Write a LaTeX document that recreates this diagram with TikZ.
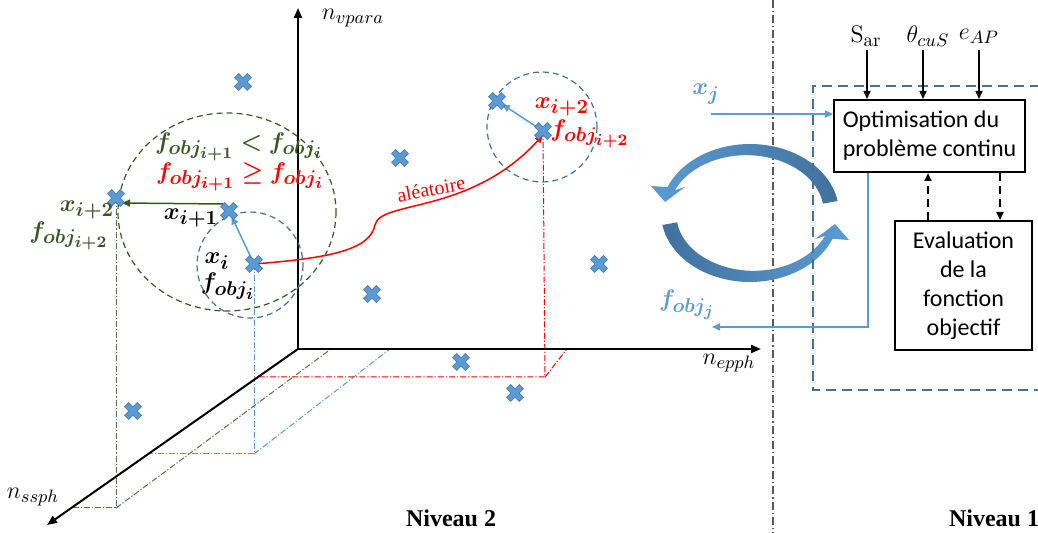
\documentclass[tikz,border=0pt]{standalone}
\usepackage{fontspec}
\usepackage{amsmath}
\usepackage{bm}
\usetikzlibrary{arrows.meta,calc}
\newfontfamily\calibrifont{Carlito}
\newfontfamily\timesfont{Liberation Serif}
\DeclareMathSizes{13}{13}{10}{8.5}
\DeclareMathSizes{12}{12}{9.5}{7.5}
\definecolor{xblue}{HTML}{5B9BD5}
\definecolor{xedge}{HTML}{41719C}
\definecolor{dgreen}{HTML}{385723}
\definecolor{sepgray}{HTML}{595959}
\tikzset{
  ax/.style={line width=1pt,-{Triangle[length=5pt,width=4pt]}},
  proj/.style={line width=0.5pt,dash pattern=on 3pt off 1pt on 0.6pt off 1pt},
  dcirc/.style={line width=0.6pt,dash pattern=on 3pt off 2pt},
  barrow/.style={line width=0.75pt,xblue,-{Triangle[length=4pt,width=3.5pt]}},
  garrow/.style={line width=0.75pt,dgreen,-{Triangle[length=4pt,width=3.5pt]}},
  rarrow/.style={line width=0.75pt,red,-{Triangle[length=4pt,width=3.5pt]}},
  karrow/.style={line width=0.75pt,black,-{Triangle[length=4pt,width=3.5pt]}},
  dasharrow/.style={line width=1pt,black,dash pattern=on 4pt off 2.5pt,-{Triangle[length=4pt,width=3.5pt]}},
  dashbox/.style={line width=0.75pt,xedge,dash pattern=on 5pt off 3pt},
  sep/.style={line width=0.6pt,sepgray,dash pattern=on 4pt off 1.5pt on 0.6pt off 1.5pt},
  box/.style={draw,line width=1pt,inner sep=0pt,font=\calibrifont\fontsize{12}{14.5}\selectfont},
  blab/.style={inner sep=0pt,font=\fontsize{13}{15}\selectfont},
  alab/.style={inner sep=0pt,font=\fontsize{12}{14}\selectfont},
  niv/.style={inner sep=0pt,font=\timesfont\bfseries\fontsize{12}{14}\selectfont},
  pics/xmark/.style={code={
    \filldraw[fill=xblue,draw=xedge,line width=0.3pt,rotate=45]
      (-3,9) -- (3,9) -- (3,3) -- (9,3) -- (9,-3) -- (3,-3) -- (3,-9) -- (-3,-9)
      -- (-3,-3) -- (-9,-3) -- (-9,3) -- (-3,3) -- cycle;}},
}
\begin{document}
\begin{tikzpicture}[x=0.5pt,y=-0.5pt]
\useasboundingbox (0,0) rectangle (1038,533);

% cross positions
\coordinate (c1) at (243,82);
\coordinate (c2) at (400,158);
\coordinate (cu) at (497,101);
\coordinate (cr) at (543,131);
\coordinate (cg) at (116,198);
\coordinate (c1i) at (229,211);
\coordinate (ci) at (254,264);
\coordinate (c3) at (372,294);
\coordinate (c4) at (599,264);
\coordinate (c5) at (461,362);
\coordinate (c6) at (515,393);
\coordinate (c7) at (133,411);

% separator
\coordinate (st) at (773,0);
\coordinate (sb) at (773,533);
\draw[sep] (st) -- (sb);

% projection lines
\coordinate (gp) at (116,508);
\coordinate (gpa) at (72,508);
\coordinate (gpb) at (331,349);
\draw[proj,dgreen!85!white] (cg) -- (gp) -- (gpa);
\draw[proj,dgreen!85!white] (gp) -- (gpb);
\coordinate (bp) at (254,454);
\coordinate (bpa) at (149,454);
\coordinate (bpb) at (390,349);
\draw[proj,xblue] (ci) -- (bp) -- (bpa);
\draw[proj,xblue] (bp) -- (bpb);
\coordinate (rp) at (545,377);
\coordinate (rpa) at (260,377);
\coordinate (rpb) at (567,349);
\draw[proj,red] (cr) -- (rp) -- (rpa);
\draw[proj,red] (rp) -- (rpb);

% axes
\coordinate (O) at (298,349);
\coordinate (vtop) at (298,8);
\coordinate (hend) at (761,349);
\coordinate (dend) at (47,525);
\draw[ax] (O) -- (vtop);
\draw[ax] (O) -- (hend);
\draw[ax] (O) -- (dend);
\node[alab] (nv) at (353,18) {$n_{vpara}$};
\node[alab] (ne) at (729,363) {$n_{epph}$};
\node[alab] (ns) at (33,497) {$n_{ssph}$};

% circles
\draw[dcirc,dgreen] (227,212) ellipse [x radius=109,y radius=99];
\draw[dcirc,xedge] (250,265) circle [radius=53];
\draw[dcirc,xedge] (542,127) circle [radius=55];

% arrows between crosses
\draw[barrow,shorten >=3pt] (ci) -- (c1i);
\draw[garrow] ($(c1i)+(-6,-7)$) -- ($(cg)+(6,5)$);
\draw[barrow,shorten >=3pt] (cr) -- (cu);
\draw[rarrow] (ci) .. controls (330,258) and (370,250) .. (375,225)
  .. controls (380,200) and (470,215) .. ($(cr)+(0,4)$);
\node[font=\timesfont\fontsize{10}{12}\selectfont,text=red,rotate=11,inner sep=0pt] (alea) at (431,189) {aléatoire};

% crosses
\foreach \c in {c1,c2,cu,cr,cg,c1i,ci,c3,c4,c5,c6,c7} {\pic at (\c) {xmark};}

% labels
\node[blab,text=dgreen] (cmp1) at (239,147) {$\bm{f_{obj_{i+1}} < f_{obj_{i}}}$};
\node[blab,text=red] (cmp2) at (240,177) {$\bm{f_{obj_{i+1}} \geq f_{obj_{i}}}$};
\node[blab,text=dgreen] (lx2) at (87,210) {$\bm{x_{i+2}}$};
\node[blab,text=dgreen] (lf2) at (69,236) {$\bm{f_{obj_{i+2}}}$};
\node[blab] (lx1) at (191,218) {$\bm{x_{i+1}}$};
\node[blab] (lxi) at (217,261) {$\bm{x_{i}}$};
\node[blab] (lfi) at (228,286) {$\bm{f_{obj_{i}}}$};
\node[blab,text=red] (rx2) at (562,107) {$\bm{x_{i+2}}$};
\node[blab,text=red] (rf2) at (590,134) {$\bm{f_{obj_{i+2}}}$};

% circular arrows
\shade[left color=xblue,right color=xedge]
  plot[domain=10:158,samples=40,variable=\t] ({750+89*cos(\t)},{213-69*sin(\t)})
  -- (651,186) -- (665,202) -- (685,187)
  -- plot[domain=158:10,samples=40,variable=\t] ({750+(74+7*(\t-10)/148)*cos(\t)},{213-(54+7*(\t-10)/148)*sin(\t)})
  -- cycle;
\begin{scope}[rotate around={180:(750,213)}]
\shade[left color=xedge,right color=xblue]
  plot[domain=10:158,samples=40,variable=\t] ({750+89*cos(\t)},{213-69*sin(\t)})
  -- (651,186) -- (665,202) -- (685,187)
  -- plot[domain=158:10,samples=40,variable=\t] ({750+(74+7*(\t-10)/148)*cos(\t)},{213-(54+7*(\t-10)/148)*sin(\t)})
  -- cycle;
\end{scope}

% level 1
\draw[dashbox] (1040,86) -- (813,86) -- (813,390) -- (1040,390);
\node[box,minimum width=95.5pt,minimum height=36pt,align=left] (opt) at (929.5,136) {Optimisation du\\problème continu};
\node[box,minimum width=68.5pt,minimum height=64.5pt,align=center] (eval) at (963.5,285.5) {Evaluation\\de la\\fonction\\objectif};
\node[alab] (sar) at (866,36) {$\mathrm{S}_{\mathrm{ar}}$};
\node[alab] (thc) at (928,36) {$\theta_{cuS}$};
\node[alab] (eap) at (979,36) {$e_{AP}$};
\coordinate (sin) at (867,50);
\coordinate (tin) at (923,50);
\coordinate (ein) at (979,50);
\draw[karrow] (sin) -- (sin |- opt.north);
\draw[karrow] (tin) -- (tin |- opt.north);
\draw[karrow] (ein) -- (ein |- opt.north);
\coordinate (dup) at (928,0);
\coordinate (ddn) at (1000,0);
\draw[dasharrow] (dup |- eval.north) -- (dup |- opt.south);
\draw[dasharrow] (ddn |- opt.south) -- (ddn |- eval.north);

\node[blab,text=xblue] (lxj) at (706,94) {$\bm{x_{j}}$};
\node[blab,text=xblue] (lfj) at (687,305) {$\bm{f_{obj_{j}}}$};
\coordinate (xjs) at (711,114);
\draw[barrow] (xjs) -- (xjs -| opt.west);
\coordinate (fo) at (868,0);
\coordinate (fje) at (712,327);
\draw[barrow] (fo |- opt.south) |- (fje);

\node[niv] (n2) at (451,518) {Niveau 2};
\node[niv] (n1) at (994,518) {Niveau 1};
\end{tikzpicture}
\end{document}
